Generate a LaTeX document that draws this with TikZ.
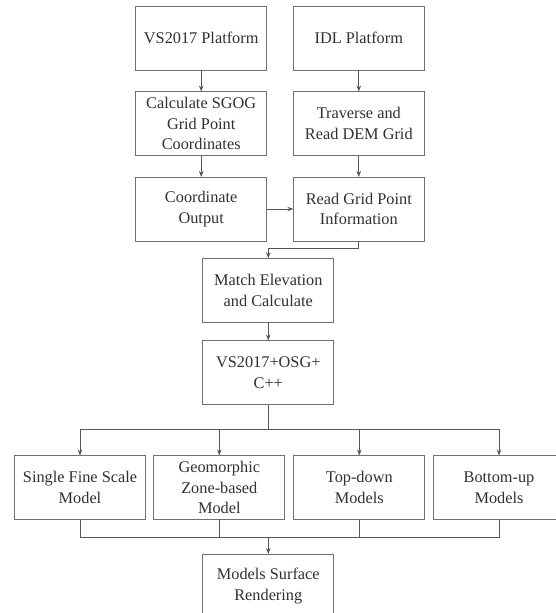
\documentclass[tikz,border=0pt]{standalone}
\usepackage{fontspec}
\setmainfont{Liberation Serif}
\usepackage{tikz}
\usetikzlibrary{arrows.meta}
\definecolor{linegray}{HTML}{555555}
\definecolor{boxgray}{HTML}{707070}
\definecolor{textgray}{HTML}{303030}
\tikzstyle{stepbox}=[draw=boxgray, line width=1pt, inner sep=0, outer sep=0,
                     minimum width=131pt, minimum height=64pt, align=center,
                     text=textgray, font=\fontsize{16.3}{20.5}\selectfont]
\tikzstyle{flow}=[draw=linegray, line width=0.9pt, -{Stealth[length=6pt, width=4.5pt]}]
\tikzstyle{wire}=[draw=linegray, line width=0.9pt]
\tikzstyle{chart}=[x=1pt, y=-1pt,
                   % Clip to the page size of the figure.
                   execute at begin picture={\clip (0, 0) rectangle (556, 613);}]

\begin{document}
\begin{tikzpicture}[chart]
        \node[stepbox] (vs) at (201.2, 38) {VS2017 Platform};
        \node[stepbox] (idl) at (358.8, 38) {IDL Platform};
        \node[stepbox] (sgog) at (201.2, 123.5) {Calculate SGOG\\Grid Point\\Coordinates};
        \node[stepbox] (trav) at (358.8, 123.5) {Traverse and\\Read DEM Grid};
        \node[stepbox] (coord) at (201.2, 209) {Coordinate\\Output};
        \node[stepbox] (readgrid) at (358.8, 209) {Read Grid Point\\Information};
        \node[stepbox] (match) at (268.3, 290.3) {Match Elevation\\and Calculate};
        \node[stepbox] (osg) at (268.3, 372.5) {VS2017+OSG+\\C++};
        \node[stepbox] (m1) at (80, 487.5) {Single Fine Scale\\Model};
        \node[stepbox] (m2) at (219.3, 487.5) {Geomorphic\\Zone-based\\Model};
        \node[stepbox] (m3) at (359.3, 487.5) {Top-down\\Models};
        \node[stepbox] (m4) at (499, 487.5) {Bottom-up\\Models};
        \node[stepbox] (render) at (268.3, 586) {Models Surface\\Rendering};
        \coordinate (split) at (268.3, 429.5);
        \coordinate (join) at (268.3, 537);
        \draw[flow] (vs) -- (sgog);
        \draw[flow] (sgog) -- (coord);
        \draw[flow] (idl) -- (trav);
        \draw[flow] (trav) -- (readgrid);
        \draw[flow] (coord) -- (readgrid);
        \draw[flow] (readgrid.south) -- ++(0, 7.5) -| (match.north);
        \draw[flow] (match) -- (osg);
        \draw[wire] (osg.south) -- (split);
        \foreach \m in {m1, m2, m3, m4} {
            \draw[flow] (split) -| (\m.north);
            \draw[wire] (\m.south) |- (join);
        }
        \draw[flow] (join) -- (render);
    \end{tikzpicture}
\end{document}
